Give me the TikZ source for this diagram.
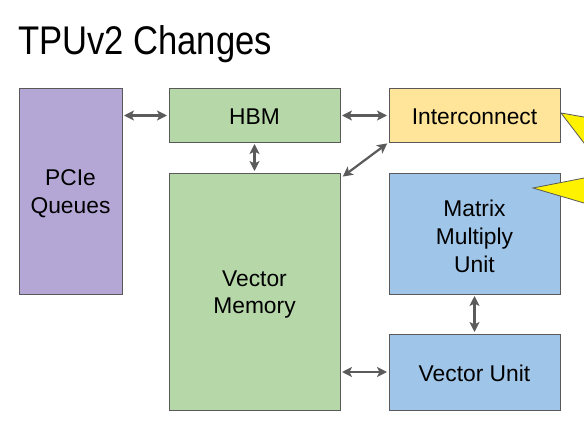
\documentclass[tikz,border=0pt]{standalone}
\usepackage{fontspec}
\setmainfont{Liberation Sans}
\usetikzlibrary{arrows.meta}
\definecolor{pciec}{HTML}{B4A7D6}
\definecolor{greenc}{HTML}{B6D7A8}
\definecolor{orangec}{HTML}{FFE599}
\definecolor{bluec}{HTML}{9FC5E8}
\definecolor{edgec}{HTML}{595959}
\definecolor{arrowc}{HTML}{5B5B5B}
\tikzset{
  blk/.style={draw=edgec, line width=1pt, inner sep=0pt},
  txt/.style={inner sep=0pt, align=center,
    font=\fontsize{22.8pt}{27.8pt}\selectfont, text=black},
  link/.style={draw=arrowc, line width=2.2pt,
    {Stealth[length=10pt,width=10pt,inset=2.5pt]}-{Stealth[length=10pt,width=10pt,inset=2.5pt]},
    shorten <=1.5pt, shorten >=1.5pt},
  callout/.style={fill=yellow, draw=edgec, line width=0.8pt}
}
\begin{document}
\begin{tikzpicture}[x=1pt,y=-1pt]
\useasboundingbox (0,0) rectangle (584,436);
\clip (0,0) rectangle (584,436);
\fill[white] (0,0) rectangle (584,436);
\node[anchor=base west, inner sep=0pt] (title) at (18,55)
  {\scalebox{0.865}[1]{\fontsize{40pt}{44pt}\selectfont TPUv2 Changes}};
\node[blk, fill=pciec, minimum width=103pt, minimum height=205pt] (pcie) at (70.5,191.5) {};
\node[blk, fill=greenc, minimum width=171pt, minimum height=53pt] (hbm) at (254.5,115.5) {};
\node[blk, fill=orangec, minimum width=171pt, minimum height=53pt] (ic) at (474.5,115.5) {};
\node[blk, fill=greenc, minimum width=171pt, minimum height=237pt] (vm) at (254.5,291.5) {};
\node[blk, fill=bluec, minimum width=171pt, minimum height=121pt] (mmu) at (474.5,233.5) {};
\node[blk, fill=bluec, minimum width=171pt, minimum height=76pt] (vu) at (474.5,372) {};
\node[txt] (pcie-t) at ([yshift=-2.5pt]pcie.center) {PCIe\\Queues};
\node[txt] (hbm-t) at ([yshift=-1pt]hbm.center) {HBM};
\node[txt] (ic-t) at ([yshift=-1pt]ic.center) {Interconnect};
\node[txt] (vm-t) at ([yshift=-3pt]vm.center) {Vector\\Memory};
\node[txt] (mmu-t) at ([yshift=-3pt]mmu.center) {Matrix\\Multiply\\Unit};
\node[txt] (vu-t) at ([yshift=-1pt]vu.center) {Vector Unit};
\draw[link] (pcie.east |- hbm.west) -- (hbm.west);
\draw[link] (hbm.east) -- (ic.west);
\draw[link] (hbm.south) -- (vm.north);
\draw[link] ([xshift=1pt,yshift=-5pt]vm.north east) -- (ic.south west);
\draw[link] (mmu.south) -- (vu.north);
\draw[link] (vm.east |- vu.west) -- (vu.west);
\draw[callout] (561,113) -- (600,119.8) -- (600,163.9) -- cycle;
\draw[callout] (533,188) -- (600,174.9) -- (600,207.7) -- cycle;
\end{tikzpicture}
\end{document}
